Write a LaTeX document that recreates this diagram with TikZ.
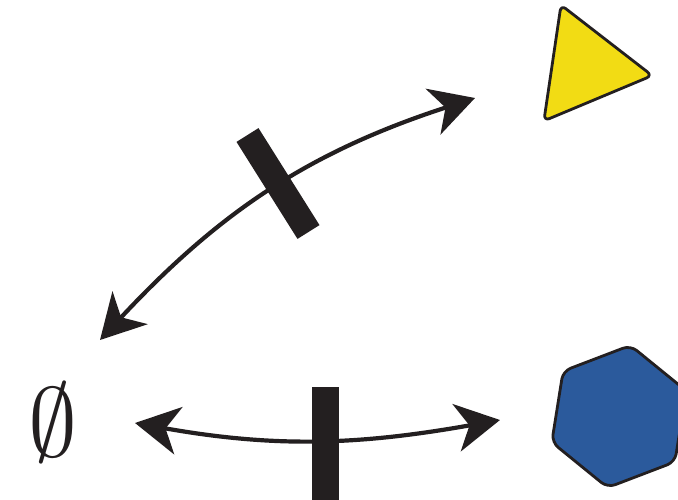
\documentclass[tikz,border=0pt]{standalone}
\usetikzlibrary{arrows.meta}
\definecolor{inkk}{HTML}{231F20}
\definecolor{yel}{HTML}{F2DC14}
\definecolor{blu}{HTML}{2B5A9C}
\tikzset{
  conn/.style={draw=inkk, line width=4.2pt,
    {Stealth[length=44pt,width=48pt,inset=13pt]}-{Stealth[length=44pt,width=48pt,inset=13pt]}},
  barfill/.style={fill=inkk},
  species/.style={draw=inkk, line width=2.8pt, line join=round},
}
\begin{document}
\begin{tikzpicture}[x=1pt,y=-1pt]
\useasboundingbox (0,0) rectangle (678,500);
% empty set
\node[inner sep=0pt, scale=9.8, text=inkk] (E) at (52.5,422.5) {$\emptyset$};
% triangle
\coordinate (T) at (585.7,67.3);
\draw[species, fill=yel, rounded corners=6pt] (561,5) -- (652.2,75.6) -- (543.9,120.9) -- cycle;
% hexagon
\coordinate (H) at (619,416.5);
\draw[species, fill=blu, rounded corners=8pt] (630.4,345.4) -- (686.2,390.8) -- (674.9,461.9) -- (607.6,487.6) -- (551.8,442.2) -- (563.1,371.1) -- cycle;
% arrow ends
\coordinate (a1) at (100,340);
\coordinate (a2) at (475,98);
\coordinate (b1) at (135,423);
\coordinate (b2) at (500,420);
% connectors
\draw[conn] (a1) .. controls (219.4,212) and (308.6,152.1) .. (a2);
\draw[conn] (b1) .. controls (276,448) and (359,445) .. (b2);
% bars
\fill[barfill] (236.5,141.9) -- (258.5,128.1) -- (319.5,225.1) -- (297.5,238.9) -- cycle;
\fill[barfill] (312,387) rectangle (339,500);
\end{tikzpicture}
\end{document}
